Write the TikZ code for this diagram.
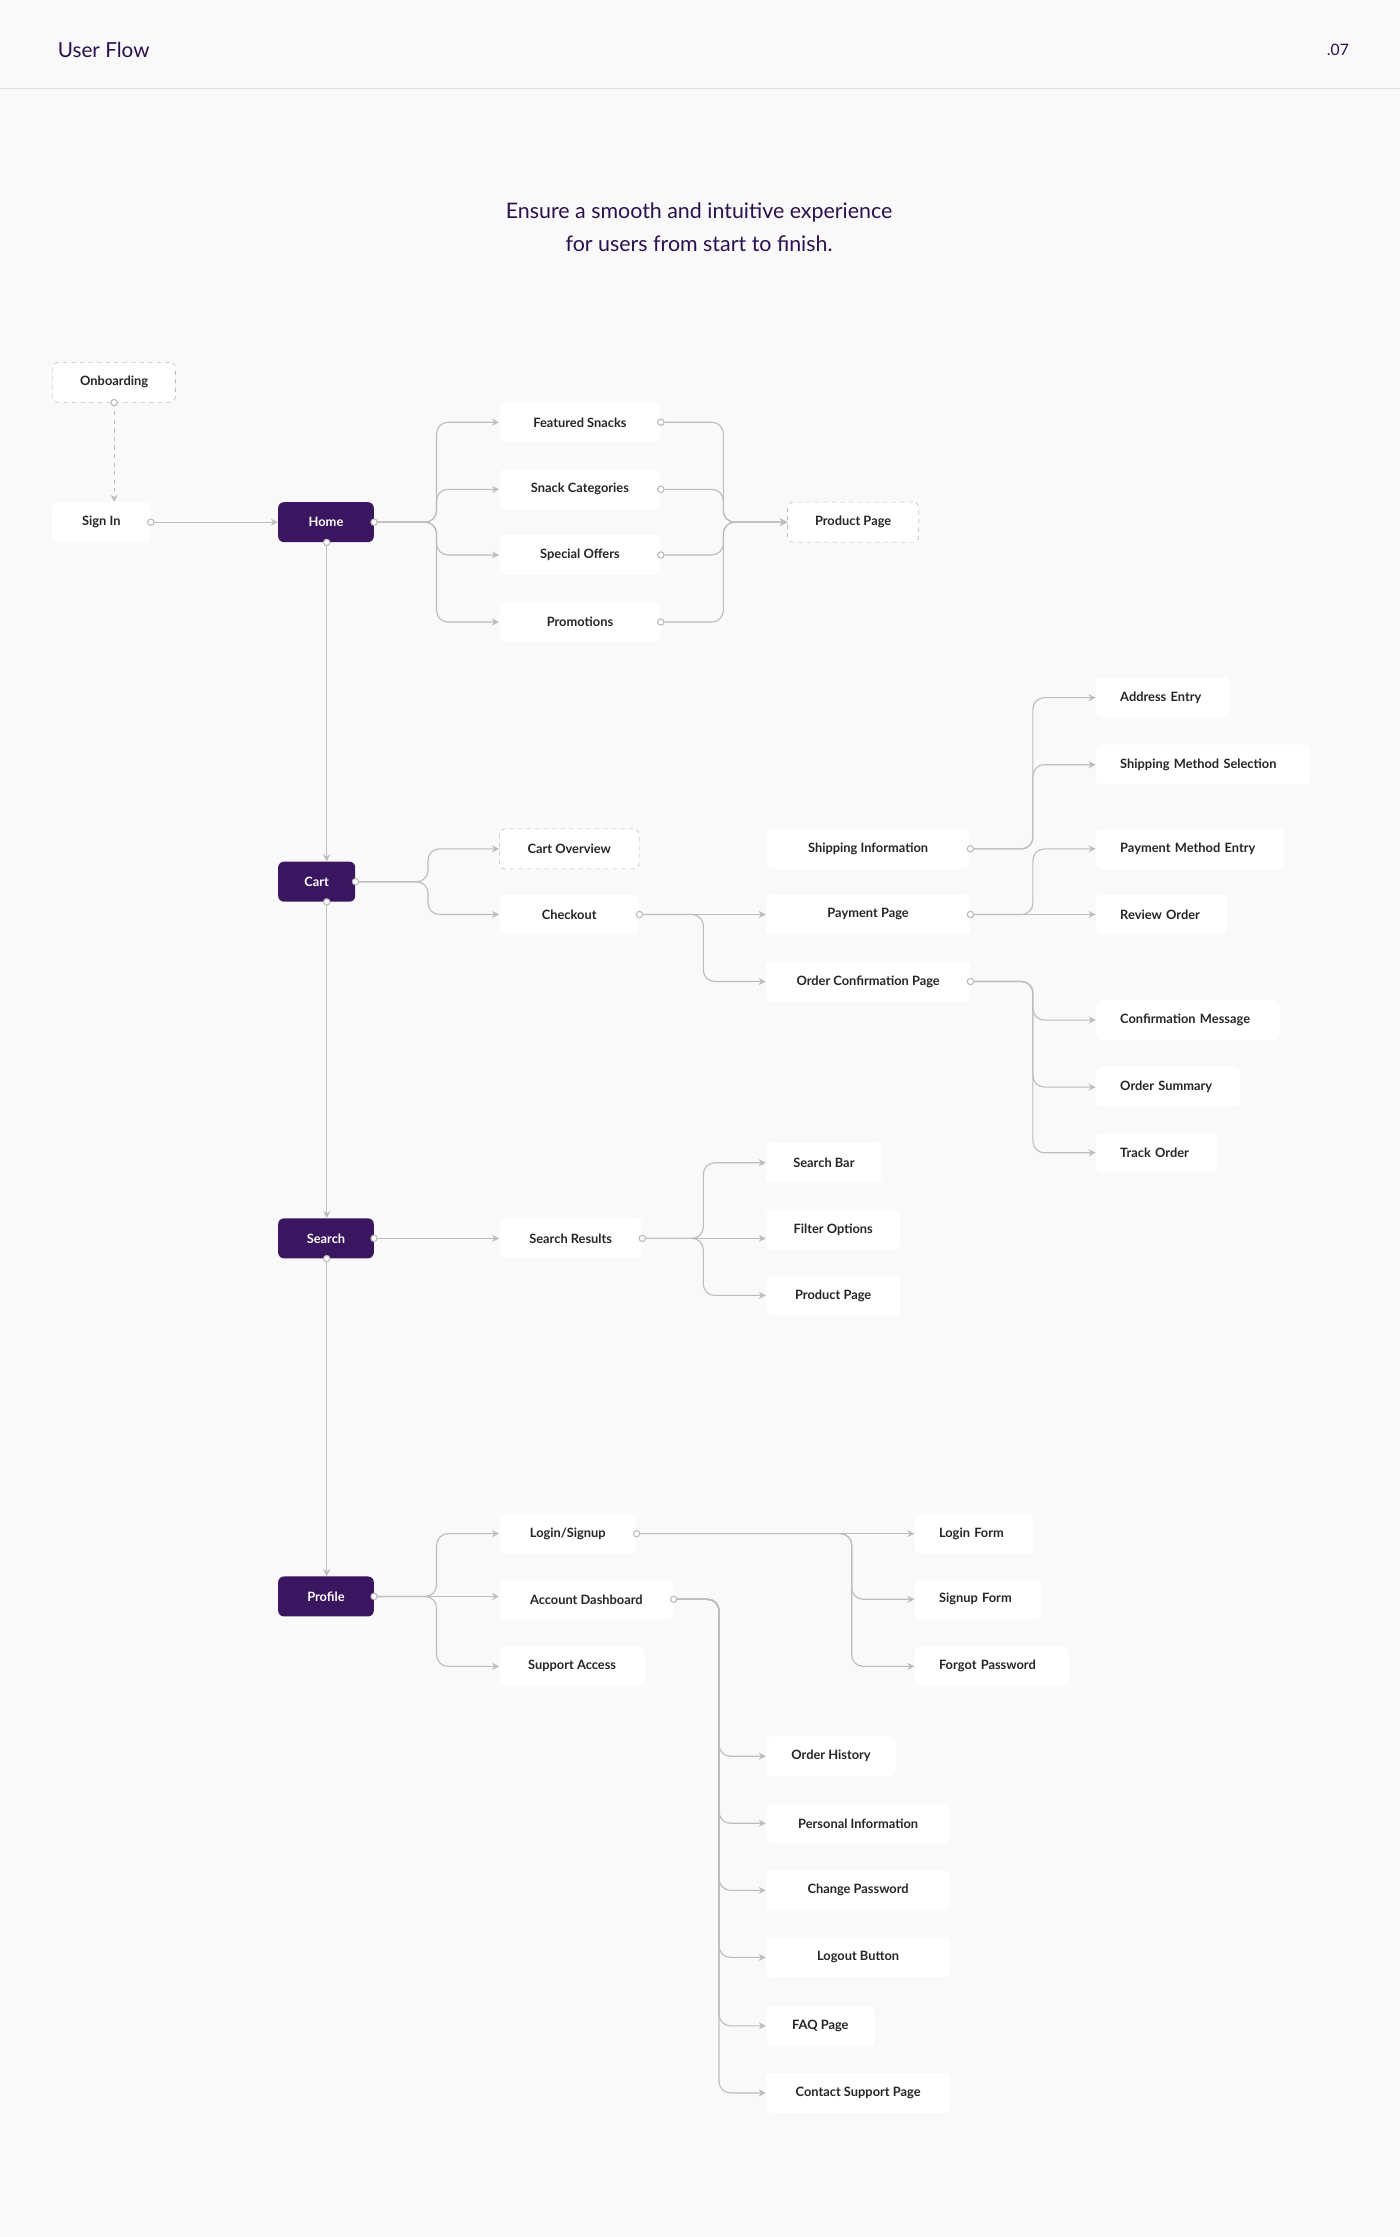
\documentclass[tikz,border=0pt]{standalone}
\usepackage{fontspec}
\setmainfont{Lato}
\usetikzlibrary{arrows.meta}
\definecolor{bg}{HTML}{F9F9F9}
\definecolor{pur}{HTML}{3A1560}
\definecolor{ln}{HTML}{BDBDBD}
\definecolor{ttl}{HTML}{2A1050}
\begin{document}
\begin{tikzpicture}[x=1pt,y=-1pt,
  box/.style={draw=none,fill=white,rounded corners=4pt,minimum height=28pt,font=\bfseries\fontsize{9}{10}\selectfont,text=black!85,inner sep=0pt},
  dbox/.style={box,draw=ln,dashed},
  main/.style={box,fill=pur,text=white},
  conn/.style={draw=ln,line width=0.8pt,rounded corners=8pt,-{Stealth[length=5pt,width=5pt]}},
  dot/.style={draw=ln,fill=white,line width=0.8pt}]
\fill[bg] (0,0) rectangle (981,1568);
\useasboundingbox (0,0) rectangle (981,1568);
\draw[black!12,line width=0.6pt] (0,62) -- (981,62);
\node[anchor=west,text=ttl,font=\fontsize{14.5}{16}\selectfont] (ttlnode) at (37,35) {User Flow};
\node[anchor=east,text=ttl,font=\fontsize{11}{13}\selectfont] (pg) at (949,35) {.07};
\node[align=center,text=ttl,font=\fontsize{15}{23}\selectfont] (sub) at (490,159) {Ensure a smooth and intuitive experience\\for users from start to finish.};
\newcommand{\bx}[5]{\node[#1,minimum width=#4pt] (#2) at (#3) {#5};}
\newcommand{\lbx}[4]{\node[box,anchor=west,text width=#3pt-34pt,align=left,inner xsep=17pt] (#1) at (#2) {#4};}
\bx{dbox}{onb}{80,268}{86}{Onboarding}
\bx{box}{sign}{71,366}{69}{Sign In}
\bx{main}{home}{228.5,366}{67}{Home}
\bx{box}{feat}{406.5,296}{113}{Featured Snacks}
\bx{box}{cat}{406.5,343}{113}{Snack Categories}
\bx{box}{spec}{406.5,389}{113}{Special Offers}
\bx{box}{promo}{406.5,436}{113}{Promotions}
\bx{dbox}{prod}{598,366}{92}{Product Page}
\bx{main}{cart}{222,618}{54}{Cart}
\bx{dbox}{cov}{399,595}{98}{Cart Overview}
\bx{box}{chk}{399,641}{98}{Checkout}
\bx{box}{ship}{608.5,595}{143}{Shipping Information}
\bx{box}{pay}{608.5,641}{143}{Payment Page}
\bx{box}{ocp}{608.5,688}{143}{Order Confirmation Page}
\lbx{addr}{768,489}{94}{Address Entry}
\lbx{smeth}{768,536}{150}{Shipping Method Selection}
\lbx{pme}{768,595}{132}{Payment Method Entry}
\lbx{rev}{768,641}{92}{Review Order}
\lbx{cmsg}{768,715}{129}{Confirmation Message}
\lbx{osum}{768,762}{101}{Order Summary}
\lbx{trk}{768,808}{85}{Track Order}
\bx{main}{srch}{228.5,868}{67}{Search}
\bx{box}{sres}{400,868}{100}{Search Results}
\bx{box}{sbar}{577.5,815}{81}{Search Bar}
\bx{box}{filt}{584,862}{94}{Filter Options}
\bx{box}{prod2}{584,908}{94}{Product Page}
\bx{main}{prof}{228.5,1119}{67}{Profile}
\bx{box}{login}{398,1075}{96}{Login/Signup}
\bx{box}{acc}{411,1121}{122}{Account Dashboard}
\bx{box}{sup}{401,1168}{102}{Support Access}
\lbx{lform}{641,1075}{83}{Login Form}
\lbx{sform}{641,1121}{89}{Signup Form}
\lbx{fpw}{641,1168}{108}{Forgot Password}
\bx{box}{ohist}{582.5,1231}{91}{Order History}
\bx{box}{pinfo}{601.5,1278}{129}{Personal Information}
\bx{box}{cpw}{601.5,1325}{129}{Change Password}
\bx{box}{logout}{601.5,1372}{129}{Logout Button}
\bx{box}{faq}{575,1420}{76}{FAQ Page}
\bx{box}{csp}{601.5,1467}{129}{Contact Support Page}
\coordinate (t1) at (306,0);
\coordinate (t2) at (507,0);
\coordinate (t3) at (300,0);
\coordinate (t4) at (493,0);
\coordinate (t5) at (724,0);
\coordinate (t6) at (597,0);
\coordinate (t7) at (504,0);
\coordinate (vx) at (229,0);
\draw[conn,dashed] (onb.south) -- (sign.north -| onb.south);
\draw[conn] (sign.east) -- (home.west);
\foreach \t in {feat,cat,spec,promo} \draw[conn] (home.east) -- (home.east -| t1) |- (\t.west);
\foreach \s in {feat,cat,spec,promo} \draw[conn] (\s.east) -- (\s.east -| t2) |- (prod.west);
\draw[conn] (home.south -| vx) -- (cart.north -| vx);
\draw[conn] (cart.south -| vx) -- (srch.north -| vx);
\draw[conn] (srch.south -| vx) -- (prof.north -| vx);
\foreach \t in {cov,chk} \draw[conn] (cart.east) -- (cart.east -| t3) |- (\t.west);
\draw[conn] (chk.east) -- (pay.west);
\draw[conn] (chk.east) -- (chk.east -| t4) |- (ocp.west);
\foreach \t in {addr,smeth} \draw[conn] (ship.east) -- (ship.east -| t5) |- (\t.west);
\draw[conn] (pay.east) -- (pay.east -| t5) |- (pme.west);
\draw[conn] (pay.east) -- (rev.west);
\foreach \t in {cmsg,osum,trk} \draw[conn] (ocp.east) -- (ocp.east -| t5) |- (\t.west);
\draw[conn] (srch.east) -- (sres.west);
\foreach \t in {sbar,prod2} \draw[conn] (sres.east) -- (sres.east -| t4) |- (\t.west);
\draw[conn] (sres.east) -- (filt.west |- sres.east);
\foreach \t in {login,sup} \draw[conn] (prof.east) -- (prof.east -| t1) |- (\t.west);
\draw[conn] (prof.east) -- (acc.west |- prof.east);
\draw[conn] (login.east) -- (lform.west);
\foreach \t in {sform,fpw} \draw[conn] (login.east) -- (login.east -| t6) |- (\t.west);
\foreach \t in {ohist,pinfo,cpw,logout,faq,csp} \draw[conn] (acc.east) -- (acc.east -| t7) |- (\t.west);
\foreach \n in {sign,feat,cat,spec,promo,chk,ship,pay,ocp,sres,login,acc,home,cart,srch,prof} \draw[dot] (\n.east) circle (2.2pt);
\draw[dot] (onb.south) circle (2.2pt);
\foreach \n in {home,cart,srch} \draw[dot] (\n.south -| vx) circle (2.2pt);
\end{tikzpicture}
\end{document}
